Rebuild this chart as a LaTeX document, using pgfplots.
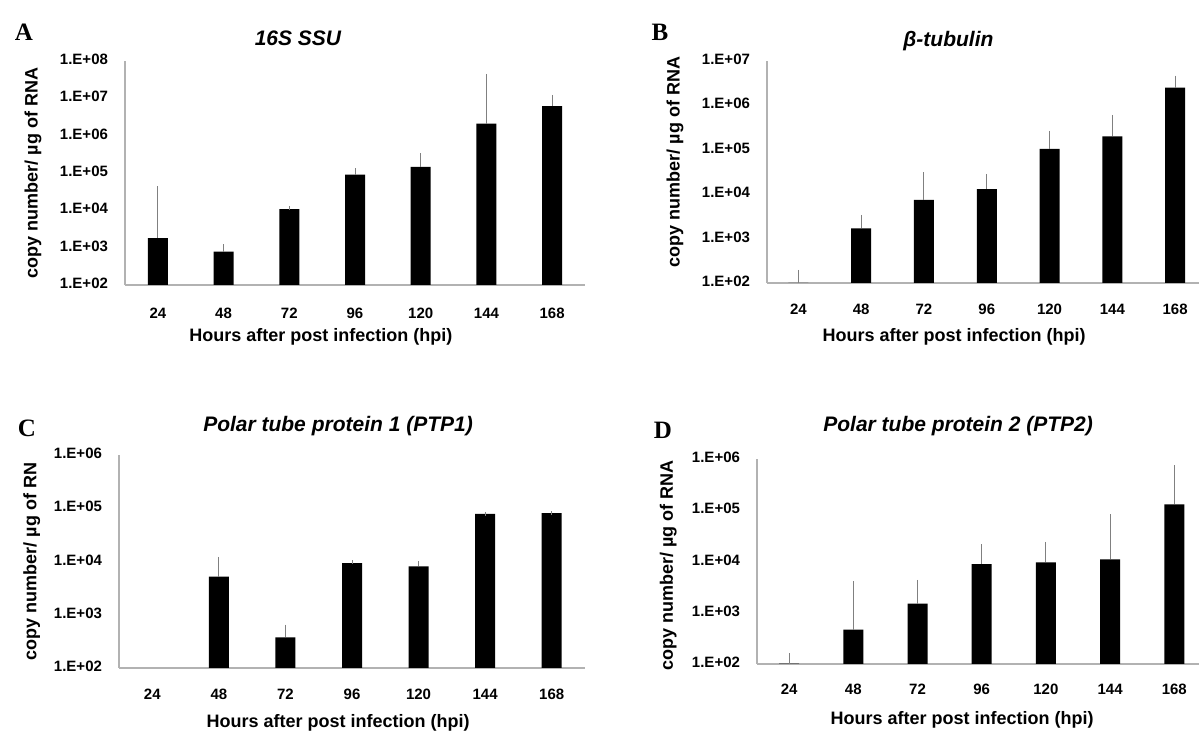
\documentclass[border=0pt]{standalone}
\usepackage{fontspec}
\setmainfont{Liberation Sans}
\newfontfamily\letterfont{Liberation Serif}
\usepackage{pgfplots}
\usepackage{pgfplotstable}
\pgfplotsset{compat=1.18}

% value and distance to the top of the error bar
\pgfplotstableread{
x y ep
0 1800 37200
1 780 320
2 10700 800
3 90000 30000
4 145000 155000
5 2100000 37900000
6 6200000 4800000
}\dataA
\pgfplotstableread{
x y ep
0 100 78
1 1700 1400
2 7400 20600
3 13000 13000
4 105000 135000
5 200000 350000
6 2500000 1700000
}\dataB
\pgfplotstableread{
x y ep
1 5200 6000
2 376 224
3 9300 400
4 8100 1200
5 78000 0
6 81000 0
}\dataC
\pgfplotstableread{
x y ep
0 102 46
1 470 3330
2 1500 2500
3 8900 11100
4 9600 12400
5 11000 65000
6 130000 560000
}\dataD

\pgfplotsset{
  qpanel/.style={
    scale only axis,
    ybar, bar width=10pt,
    axis lines*=left, axis line style={draw=gray!60, line width=0.8pt, -},
    major tick length=0pt, minor tick length=0pt,
    xtick={0,...,6}, xticklabels={24,48,72,96,120,144,168},
    typeset ticklabels with strut,
    xmin=-0.5, ymin=100, enlargelimits=false,
    tick label style={font=\bfseries\fontsize{7.5}{9}\selectfont},
    yticklabel style={xshift=-5pt},
    label style={font=\bfseries\fontsize{9}{11}\selectfont},
    title style={font=\bfseries\itshape\fontsize{10.5}{12}\selectfont},
  },
  qbars/.style={fill=black, draw=none,
    /pgfplots/error bars/y dir=plus, /pgfplots/error bars/y explicit,
    /pgfplots/error bars/error bar style={draw=gray, line width=0.5pt},
    /pgfplots/error bars/error mark options={draw=gray, mark size=1pt, line width=0.5pt}},
}

\begin{document}
\begin{tikzpicture}
\useasboundingbox (0,0) rectangle (599.5pt,365.5pt);

\begin{semilogyaxis}[qpanel, log origin=infty, anchor=south west, at={(62.5pt,223pt)}, width=230pt, height=112pt,
    xmax=6.5, ymax=1e8,
    ytick={1e2,1e3,1e4,1e5,1e6,1e7,1e8},
    yticklabels={1.E+02,1.E+03,1.E+04,1.E+05,1.E+06,1.E+07,1.E+08},
    xticklabel style={yshift=-7pt},
    title={16S SSU}, title style={at={(axis description cs:0.376,1.049)}, anchor=center},
    xlabel={Hours after post infection (hpi)}, xlabel style={at={(axis description cs:0.426,-0.232)}, anchor=center},
    ylabel={copy number/ µg of RNA}, ylabel style={at={(axis description cs:-0.2,0.5)}, anchor=center}]
\addplot[qbars] table[x=x, y=y, y error plus=ep] {\dataA};
\end{semilogyaxis}

\begin{semilogyaxis}[qpanel, log origin=infty, anchor=south west, at={(383.5pt,224pt)}, width=216pt, height=111pt,
    xmax=6.38, ymax=1e7,
    ytick={1e2,1e3,1e4,1e5,1e6,1e7},
    yticklabels={1.E+02,1.E+03,1.E+04,1.E+05,1.E+06,1.E+07},
    xticklabel style={yshift=-5.8pt},
    title={β-tubulin}, title style={at={(axis description cs:0.42,1.036)}, anchor=center},
    xlabel={Hours after post infection (hpi)}, xlabel style={at={(axis description cs:0.433,-0.243)}, anchor=center},
    ylabel={copy number/ µg of RNA}, ylabel style={at={(axis description cs:-0.213,0.545)}, anchor=center}]
\addplot[qbars] table[x=x, y=y, y error plus=ep] {\dataB};
\end{semilogyaxis}

\begin{semilogyaxis}[qpanel, log origin=infty, anchor=south west, at={(59.5pt,31.5pt)}, width=233pt, height=106.5pt,
    xmax=6.5, ymax=1e6,
    ytick={1e2,1e3,1e4,1e5,1e6},
    yticklabels={1.E+02,1.E+03,1.E+04,1.E+05,1.E+06},
    xticklabel style={yshift=-5.8pt},
    title={Polar tube protein 1 (PTP1)}, title style={at={(axis description cs:0.47,1.08)}, anchor=center},
    xlabel={Hours after post infection (hpi)}, xlabel style={at={(axis description cs:0.47,-0.258)}, anchor=center},
    ylabel={copy number/ µg of RN}, ylabel style={at={(axis description cs:-0.187,0.5)}, anchor=center}]
\addplot[qbars] table[x=x, y=y, y error plus=ep] {\dataC};
\end{semilogyaxis}

\begin{semilogyaxis}[qpanel, log origin=infty, anchor=south west, at={(378.5pt,33.5pt)}, width=221pt, height=102.5pt,
    xmax=6.385, ymax=1e6,
    ytick={1e2,1e3,1e4,1e5,1e6},
    yticklabels={1.E+02,1.E+03,1.E+04,1.E+05,1.E+06},
    xticklabel style={yshift=-5.3pt},
    title={Polar tube protein 2 (PTP2)}, title style={at={(axis description cs:0.455,1.10)}, anchor=center},
    xlabel={Hours after post infection (hpi)}, xlabel style={at={(axis description cs:0.464,-0.273)}, anchor=center},
    ylabel={copy number/ µg of RNA}, ylabel style={at={(axis description cs:-0.201,0.48)}, anchor=center}]
\addplot[qbars] table[x=x, y=y, y error plus=ep] {\dataD};
\end{semilogyaxis}

% panel letters
\node[font=\letterfont\bfseries\fontsize{12.5}{14}\selectfont] at (12pt,349.5pt) {A};
\node[font=\letterfont\bfseries\fontsize{12.5}{14}\selectfont] at (330pt,349.5pt) {B};
\node[font=\letterfont\bfseries\fontsize{12.5}{14}\selectfont] at (13.5pt,151.5pt) {C};
\node[font=\letterfont\bfseries\fontsize{12.5}{14}\selectfont] at (331.5pt,150.5pt) {D};
\end{tikzpicture}
\end{document}
